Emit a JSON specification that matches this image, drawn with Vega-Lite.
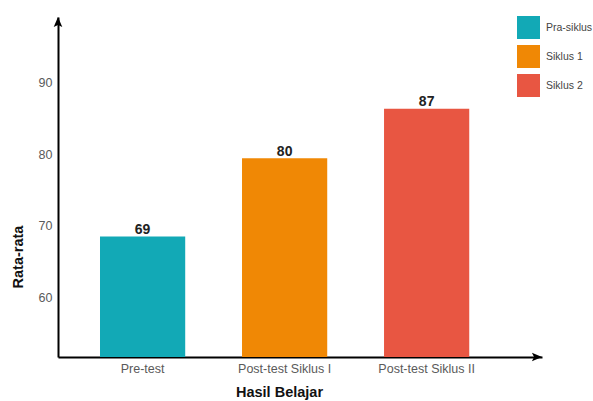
{
  "$schema": "https://vega.github.io/schema/vega-lite/v6.json",
  "autosize": "none",
  "width": 484,
  "height": 340,
  "padding": {"left": 58, "top": 17, "right": 51, "bottom": 44},
  "background": "white",
  "config": {
    "view": {"stroke": null},
    "font": "Liberation Sans",
    "axis": {"grid": false, "ticks": false, "domainColor": "#000000", "domainWidth": 2, "labelColor": "#5a5a5a", "labelFontSize": 12.5, "titleColor": "#111111", "titleFontSize": 14.5, "titleFontWeight": "bold"},
    "legend": {"title": null}
  },
  "data": {"values": [
    {"hasil": "Pre-test", "kategori": "Pra-siklus", "rata": 68.5, "label": "69"},
    {"hasil": "Post-test Siklus I", "kategori": "Siklus 1", "rata": 79.4, "label": "80"},
    {"hasil": "Post-test Siklus II", "kategori": "Siklus 2", "rata": 86.3, "label": "87"}
  ]},
  "layer": [
    {
      "layer": [
        {
          "mark": {"type": "bar", "clip": true},
          "encoding": {
            "x": {"field": "hasil", "type": "nominal", "sort": null,
                  "scale": {"paddingInner": 0.4, "paddingOuter": 0.404, "align": 0.366},
                  "axis": {"title": "Hasil Belajar", "labelAngle": 0, "labelPadding": 5, "titlePadding": 11, "titleX": 221}},
            "y": {"field": "rata", "type": "quantitative",
                  "scale": {"domain": [51.7, 99.1], "nice": false, "zero": false},
                  "axis": {"title": "Rata-rata", "values": [60, 70, 80, 90], "labelPadding": 6, "titleX": -39.5, "titleY": 239.5, "titleBaseline": "middle", "titleAngle": -90}},
            "color": {"field": "kategori", "type": "nominal",
                      "scale": {"domain": ["Pra-siklus", "Siklus 1", "Siklus 2"], "range": ["#12A9B6", "#F08805", "#E85642"]},
                      "legend": {"orient": "none", "legendX": 459, "legendY": -1, "symbolType": "square", "symbolSize": 529, "symbolStrokeWidth": 0, "symbolOpacity": 1, "labelFontSize": 10.5, "labelColor": "#444444", "labelOffset": 6, "rowPadding": 6, "padding": 0}}
          }
        },
        {
          "mark": {"type": "text", "baseline": "bottom", "dy": 0.5, "fontSize": 14, "fontWeight": "bold", "color": "#222222"},
          "encoding": {
            "x": {"field": "hasil", "type": "nominal", "sort": null},
            "y": {"field": "rata", "type": "quantitative"},
            "text": {"field": "label"}
          }
        }
      ]
    },
    {
      "data": {"values": [{"arrow": "y"}]},
      "layer": [
        {
          "mark": {"type": "point", "filled": true, "color": "#000000", "opacity": 1, "size": 150, "shape": "M0,-1L0.7,0.65L0,0.3L-0.7,0.65Z"},
          "encoding": {
            "x": {"datum": 0, "type": "quantitative", "scale": {"domain": [0, 1], "nice": false, "zero": false}, "axis": null},
            "y": {"datum": 98.25, "type": "quantitative"}
          }
        },
        {
          "mark": {"type": "point", "filled": true, "color": "#000000", "opacity": 1, "size": 150, "shape": "M1,0L-0.65,0.7L-0.3,0L-0.65,-0.7Z"},
          "encoding": {
            "x": {"datum": 0.9874, "type": "quantitative", "axis": null},
            "y": {"datum": 51.7, "type": "quantitative"}
          }
        }
      ]
    }
  ],
  "resolve": {"scale": {"x": "independent"}}
}
